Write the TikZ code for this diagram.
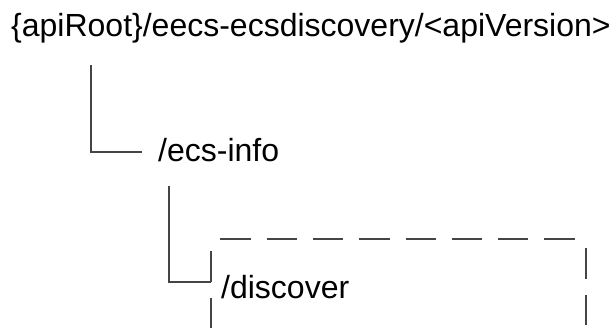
\documentclass[tikz,border=0pt]{standalone}
\usepackage{fontspec}
\setmainfont{Liberation Sans}
\begin{document}
\begin{tikzpicture}[x=1pt,y=-1pt,
  lbl/.style={inner sep=0pt,anchor=base west,font=\fontsize{32}{38}\selectfont,text=black},
  conn/.style={draw=linegray,line width=2pt},
  dashside/.style={draw=linegray,line width=2pt,dash pattern=on 30.3pt off 16pt}]
\definecolor{linegray}{HTML}{454545}
\useasboundingbox (0,0) rectangle (613,333);
\node[lbl] (root) at (11,36.7) {\{apiRoot\}/eecs-ecsdiscovery/<apiVersion>};
\node[lbl] (ecs) at (158,161.7) {/ecs-info};
\node[lbl] (disc) at (221,298) {/discover};
% dashed box around /discover
\coordinate (bnw) at ([xshift=-10pt,yshift=59pt]disc.base west);
\coordinate (bne) at ([xshift=365pt,yshift=59pt]disc.base west);
\coordinate (bsw) at ([xshift=-10pt,yshift=-35pt]disc.base west);
\coordinate (bse) at ([xshift=365pt,yshift=-35pt]disc.base west);
\draw[dashside,dash phase=37pt] (bnw) -- (bne);
\draw[dashside,dash phase=37pt] (bne) -- (bse);
\draw[dashside,dash phase=34pt] (bnw) -- (bsw);
% connectors
\draw[conn] ([xshift=79.5pt,yshift=-28.3pt]root.base west) |- ([xshift=-16.3pt,yshift=10pt]ecs.base west);
\draw[conn] ([xshift=11pt,yshift=-24.3pt]ecs.base west) |- ([xshift=-10pt,yshift=15.7pt]disc.base west);
\end{tikzpicture}
\end{document}
